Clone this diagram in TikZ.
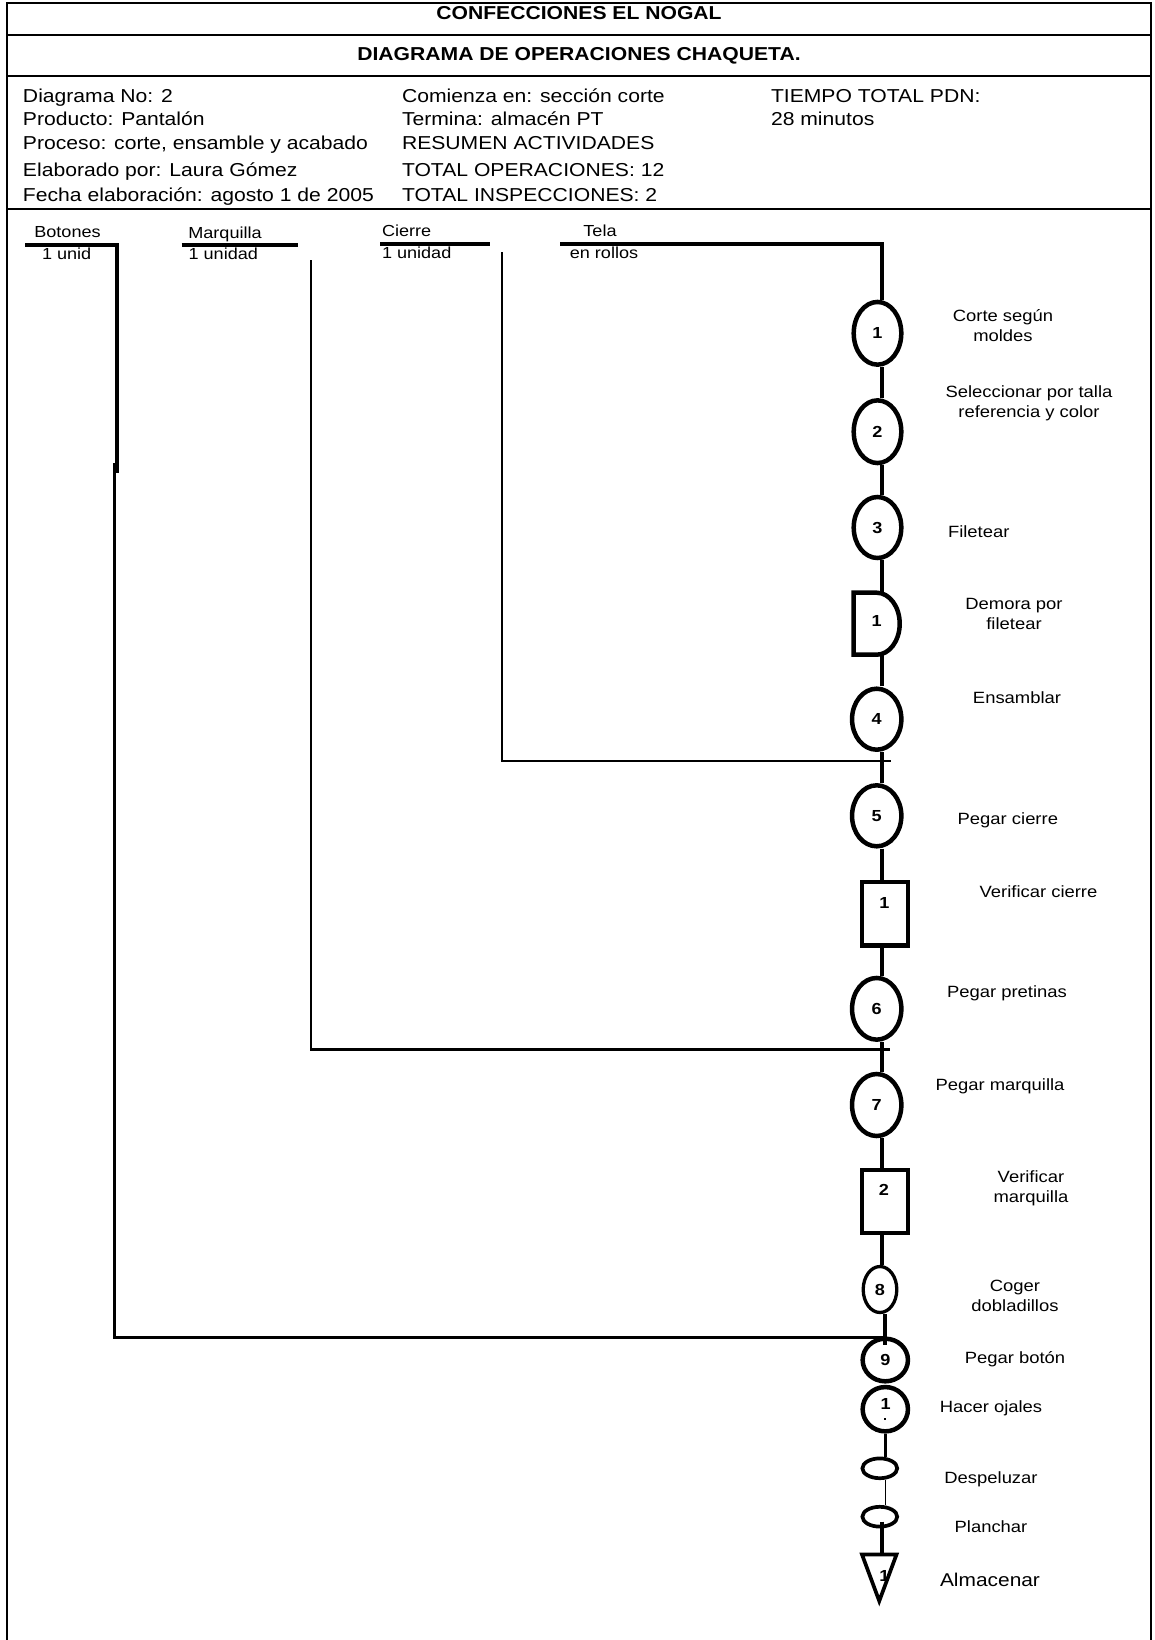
\documentclass[tikz,border=0pt]{standalone}
\usepackage{fontspec}
\setmainfont{Liberation Sans}[FakeStretch=1.13]
\usetikzlibrary{shapes.geometric,backgrounds}
\begin{document}
\begin{tikzpicture}[x=1pt,y=-1pt,
  frameline/.style={line width=2.5pt},
  hdr/.style={font=\fontsize{18.7}{22}\selectfont, inner sep=0pt, outer sep=0pt, anchor=base west},
  ttl/.style={font=\fontsize{18.7}{22}\selectfont\bfseries, inner sep=0pt, outer sep=0pt, anchor=base},
  mat/.style={font=\fontsize{16}{19}\selectfont, inner sep=0pt, outer sep=0pt, anchor=base},
  lbl/.style={font=\fontsize{16.3}{19.5}\selectfont, inner sep=0pt, outer sep=0pt, align=center},
  num/.style={font=\fontsize{16}{16}\selectfont\bfseries, inner sep=0pt, outer sep=0pt},
  opn/.style={ellipse, draw, line width=4.5pt, fill=white, inner sep=0pt, font=\fontsize{16}{16}\selectfont\bfseries},
  insp/.style={rectangle, draw, line width=4.5pt, fill=white, inner sep=0pt, minimum width=46pt, minimum height=63pt},
  holder/.style={rectangle, inner sep=0pt, outer sep=0pt},
  flow/.style={line width=4.3pt},
  feed/.style={line width=2pt},
  joinline/.style={line width=2.7pt},
  bar/.style={line width=4pt}]

\begin{scope}[on background layer]
  \fill[white] (0,0) rectangle (1154,1640);
\end{scope}
\useasboundingbox (0,0) rectangle (1154,1640);

% ---------- frame and header ----------
\draw[frameline] (7,1640) -- (7,3) -- (1151,3) -- (1151,1640);
\draw[frameline] (7,35) -- (1151,35);
\draw[frameline] (7,76) -- (1151,76);
\draw[frameline] (7,209) -- (1151,209);

\node[ttl] (empresa) at (579,20) {CONFECCIONES EL NOGAL};
\node[ttl] (titulo) at (579,61) {DIAGRAMA DE OPERACIONES CHAQUETA.};

\node[hdr] (a1) at (23,103) {Diagrama No: 2};
\node[hdr] (a2) at (23,126) {Producto: Pantalón};
\node[hdr] (a3) at (23,150) {Proceso: corte, ensamble y acabado};
\node[hdr] (a4) at (23,177) {Elaborado por: Laura Gómez};
\node[hdr] (a5) at (23,201) {Fecha elaboración: agosto 1 de 2005};
\node[hdr] (b1) at (402,103) {Comienza en: sección corte};
\node[hdr] (b2) at (402,126) {Termina: almacén PT};
\node[hdr] (b3) at (402,150) {RESUMEN ACTIVIDADES};
\node[hdr] (b4) at (402,177) {TOTAL OPERACIONES: 12};
\node[hdr] (b5) at (402,201) {TOTAL INSPECCIONES: 2};
\node[hdr] (c1h) at (771,103) {TIEMPO TOTAL PDN:};
\node[hdr] (c2h) at (771,126) {28 minutos};

% ---------- materials ----------
\node[mat] (botones) at (67.5,237) {Botones};
\node[mat] (botCant) at (66.7,259) {1 unid};
\node[mat] (marquilla) at (225,238) {Marquilla};
\node[mat] (marqCant) at (223.3,259) {1 unidad};
\node[mat, anchor=base west] (cierre) at (382,236) {Cierre};
\node[mat, anchor=base west] (cierreCant) at (382,258.5) {1 unidad};
\node[mat] (tela) at (600,236) {Tela};
\node[mat] (telaCant) at (604,258.5) {en rollos};

\draw[bar] (181.7,245) -- (298.3,245);
\draw[bar] (380,244) -- (490,244);

% ---------- process symbols ----------
\node[opn, minimum width=47.6pt, minimum height=62.7pt] (c1) at (877.5,333.3) {1};
\node[opn, minimum width=47.6pt, minimum height=62.7pt] (c2) at (877.5,431.7) {2};
\node[opn, minimum width=47.6pt, minimum height=61pt] (c3) at (877.5,527.5) {3};
\node[holder, minimum width=46pt, minimum height=62pt] (d1) at (876.7,623.7) {};
\draw[line width=4.5pt, fill=white] (d1.north west) -- (d1.north)
  arc[start angle=90, end angle=-90, x radius=23pt, y radius=31pt] -- (d1.south west) -- cycle;
\node[num] (d1n) at (876.7,620.5) {1};
\node[opn, minimum width=49.3pt, minimum height=61pt] (c4) at (876.7,719.2) {4};
\node[opn, minimum width=49.3pt, minimum height=61pt] (c5) at (876.7,815.8) {5};
\node[insp, minimum height=63.3pt] (i1) at (885,913.7) {};
\node[num] (i1n) at (884.3,903.3) {1};
\node[opn, minimum width=49.3pt, minimum height=61.7pt] (c6) at (876.7,1008.8) {6};
\node[opn, minimum width=49.3pt, minimum height=62pt] (c7) at (876.7,1105) {7};
\node[insp] (i2) at (885,1201.5) {};
\node[num] (i2n) at (884,1190) {2};
\node[opn, line width=3.3pt, minimum width=33.6pt, minimum height=46pt] (c8) at (880,1289.5) {8};
\node[opn, minimum width=45.3pt, minimum height=42.6pt] (c9) at (885.3,1360) {9};
\node[opn, minimum width=45.3pt, minimum height=44.3pt] (c10) at (885.3,1409.2) {};
\node[num] (c10n) at (885.7,1404) {1};
\fill (884,1417.5) rectangle (886,1419.5);
\node[opn, line width=3.7pt, minimum width=34.8pt, minimum height=19.8pt] (e1) at (879.8,1468.3) {};
\node[opn, line width=3.7pt, minimum width=34.8pt, minimum height=19.8pt] (e2) at (879.8,1516.7) {};
\node[holder, minimum width=34.5pt, minimum height=46.5pt] (tri) at (879.25,1577.75) {};
\draw[line width=3.7pt, fill=white] (tri.north west) -- (tri.north east) -- (tri.south) -- cycle;
\node[num] (trin) at (884.5,1576) {1};

% ---------- operation labels ----------
\node[lbl] (t1) at (1003,325.7) {Corte según\\moldes};
\node[lbl] (t2) at (1029,403.5) {Seleccionar por talla\\referencia y color};
\node[lbl, anchor=base west] (t3) at (948,537) {Filetear};
\node[lbl] (t4) at (1014,613.8) {Demora por\\filetear};
\node[lbl, anchor=base] (t5) at (1017,703) {Ensamblar};
\node[lbl, anchor=base west] (t6) at (957.7,824) {Pegar cierre};
\node[lbl, anchor=base] (t7) at (1038.5,897) {Verificar cierre};
\node[lbl, anchor=base] (t8) at (1007,997) {Pegar pretinas};
\node[lbl, anchor=base] (t9) at (1000,1090) {Pegar marquilla};
\node[lbl] (t10) at (1031,1188.5) {Verificar\\marquilla};
\node[lbl] (t11) at (1015,1295.8) {Coger\\dobladillos};
\node[lbl, anchor=base] (t12) at (1015,1363) {Pegar botón};
\node[lbl, anchor=base] (t13) at (991,1412) {Hacer ojales};
\node[lbl, anchor=base] (t14) at (991,1483) {Despeluzar};
\node[lbl, anchor=base] (t15) at (991,1532) {Planchar};
\node[lbl, anchor=base, font=\fontsize{18.5}{22}\selectfont] (t16) at (990,1586) {Almacenar};

% ---------- main line (under the symbols) ----------
\coordinate (spine) at (881.7,0);
\coordinate (telaIni) at (560,244);
\begin{scope}[on background layer]
  \draw[flow] (telaIni) -- (telaIni -| spine) -- (c1.north -| spine);
  \draw[flow] (c1.south -| spine) -- (c2.north -| spine);
  \draw[flow] (c2.south -| spine) -- (c3.north -| spine);
  \draw[flow] (c3.south -| spine) -- (d1.north -| spine);
  \draw[flow] (d1.south -| spine) -- (c4.north -| spine);
  \draw[flow] (c4.south -| spine) -- (c5.north -| spine);
  \draw[flow] (c5.south -| spine) -- (i1.north -| spine);
  \draw[flow] (i1.south -| spine) -- (c6.north -| spine);
  \draw[flow] (c6.south -| spine) -- (c7.north -| spine);
  \draw[flow] (c7.south -| spine) -- (i2.north -| spine);
  \draw[flow] (i2.south -| spine) -- (c8.north -| spine);
\end{scope}
\draw[flow] (c8.south -| c9.center) -- ++(0,31);
\draw[line width=3.5pt] (c10.south) -- (e1.north -| c10.south);
\draw[line width=1.3pt] (e1.south -| c10.south) -- (e2.north -| c10.south);
\draw[flow] (e2.center -| spine) ++(0,5) -- (tri.north -| spine);

% ---------- feeding lines ----------
\coordinate (cierreTop) at (502,252);
\coordinate (cierreJoin) at (890.7,761);
\draw[feed] (cierreTop) -- (cierreTop |- cierreJoin);
\draw[joinline] ([xshift=-1pt]cierreTop |- cierreJoin) -- (cierreJoin);

\coordinate (marqTop) at (311,260);
\coordinate (marqJoin) at (890,1049.3);
\draw[feed] (marqTop) -- (marqTop |- marqJoin);
\draw[joinline] ([xshift=-1pt]marqTop |- marqJoin) -- (marqJoin);

\coordinate (botIni) at (25,245);
\coordinate (botTop) at (116.5,245);
\coordinate (botStep) at (114.8,463);
\coordinate (botJoin) at (885,1337.7);
\draw[bar] (botIni) -- (botTop) -- ++(0,228);
\draw[line width=3.3pt] (botStep) |- (botJoin);
\end{tikzpicture}
\end{document}
